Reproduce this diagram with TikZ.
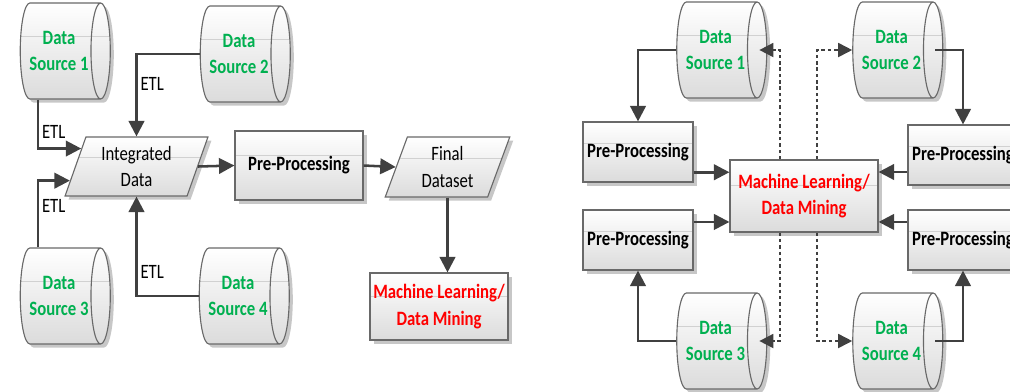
\documentclass[tikz,border=0pt]{standalone}
\usepackage{fontspec}
\setmainfont{Carlito}[FakeStretch=0.82]
\usetikzlibrary{shapes.geometric,arrows.meta,shadows,calc}
\definecolor{dsgreen}{RGB}{0,176,80}
\definecolor{mlred}{RGB}{255,0,0}
\definecolor{edgegray}{RGB}{105,105,105}
\definecolor{linegray}{RGB}{64,64,64}
\begin{document}
\begin{tikzpicture}[x=0.025cm,y=-0.025cm,
	every node/.style={font=\fontsize{14.5pt}{19pt}\selectfont, align=center, inner sep=1pt},
	shadebox/.style={draw=edgegray, line width=0.8pt, top color=white, bottom color=black!14,
		drop shadow={shadow xshift=2.5pt, shadow yshift=-2.5pt, fill=black!22, opacity=1},
		path picture={\draw[black!18, line width=0.6pt]
			($(path picture bounding box.north west)!0.35!(path picture bounding box.south west)$) --
			($(path picture bounding box.north east)!0.35!(path picture bounding box.south east)$);}},
	source/.style={shadebox, cylinder, shape aspect=0.45, minimum width=2.4cm, minimum height=2.25cm,
		text=dsgreen, font=\bfseries\fontsize{14.5pt}{19pt}\selectfont},
	dataset/.style={shadebox, trapezium, trapezium left angle=71, trapezium right angle=109,
		trapezium stretches=true},
	prebox/.style={shadebox, rectangle, font=\bfseries\fontsize{14.5pt}{19pt}\selectfont},
	minebox/.style={shadebox, rectangle, text=mlred, font=\bfseries\fontsize{14.5pt}{19pt}\selectfont},
	flow/.style={draw=linegray, line width=1.8pt, -{Triangle[length=11pt,width=11pt]}},
	dflow/.style={draw=linegray, line width=1.2pt, dash pattern=on 2.5pt off 2pt,
		-{Triangle[length=10pt,width=10pt]}},
	etl/.style={right, inner sep=2pt}]
	\useasboundingbox (0,0) rectangle (1010,391);

	\node[source] (ds1) at (59,51) {Data\\Source 1};
	\node[source] (ds2) at (239,54) {Data\\Source 2};
	\node[source] (ds3) at (59,296) {Data\\Source 3};
	\node[source] (ds4) at (238,296) {Data\\Source 4};
	\node[dataset, minimum width=3.575cm, minimum height=1.475cm] (int) at (136.5,166.5) {Integrated\\Data};
	\node[prebox, minimum width=3.2cm, minimum height=1.725cm] (pre) at (299,165.5) {Pre-Processing};
	\node[dataset, minimum width=3.125cm, minimum height=1.5cm] (fin) at (447.5,167) {Final\\Dataset};
	\node[minebox, minimum width=3.45cm, minimum height=1.675cm] (ml1) at (439,306.5) {Machine Learning/\\Data Mining};

	\draw[flow] ([xshift=-0.525cm]ds1.south) |- (int.162) node[etl, pos=0.33] (etl1) {ETL};
	\draw[flow] (ds2.west) -| (int.center |- int.north) node[etl, pos=0.68] (etl2) {ETL};
	\draw[flow] ([xshift=-0.525cm]ds3.north) |- (int.192) node[etl, pos=0.31] (etl3) {ETL};
	\draw[flow] (ds4.west) -| (int.center |- int.south) node[etl, pos=0.62] (etl4) {ETL};
	\draw[flow] (int.east) -- (pre.west);
	\draw[flow] (pre.east) -- (fin.west);
	\draw[flow] (fin.center |- fin.south) -- (fin.center |- ml1.north);

	\node[source] (rds1) at (715.5,50) {Data\\Source 1};
	\node[source] (rds2) at (891.5,50) {Data\\Source 2};
	\node[source] (rds3) at (715.5,341) {Data\\Source 3};
	\node[source] (rds4) at (891.5,341) {Data\\Source 4};
	\node[prebox, minimum width=2.75cm, minimum height=1.5cm] (pl1) at (638,152) {Pre-Processing};
	\node[prebox, minimum width=2.75cm, minimum height=1.5cm] (pl2) at (638,240) {Pre-Processing};
	\node[prebox, minimum width=2.75cm, minimum height=1.5cm] (pr1) at (963,155) {Pre-Processing};
	\node[prebox, minimum width=2.75cm, minimum height=1.5cm] (pr2) at (963,240) {Pre-Processing};
	\node[minebox, minimum width=3.7cm, minimum height=1.8cm] (ml2) at (804,196) {Machine Learning/\\Data Mining};

	\draw[flow] (rds1.west) -| (pl1.north);
	\draw[flow] ([xshift=-0.2cm]rds2.east) -| (pr1.north);
	\draw[flow] (rds3.west) -| (pl2.south);
	\draw[flow] ([xshift=-0.2cm]rds4.east) -| (pr2.south);
	\draw[flow] (pl1.-20) -- (ml2.west |- pl1.-20);
	\draw[flow] (pl2.18) -- (ml2.west |- pl2.18);
	\draw[flow] (pr1.197) -- (ml2.east |- pr1.197);
	\draw[flow] (pr2.162) -- (ml2.east |- pr2.162);
	\draw[dflow] ([xshift=-0.6cm]ml2.north) |- ([xshift=-0.2cm]rds1.east);
	\draw[dflow] ([xshift=0.325cm]ml2.north) |- (rds2.west);
	\draw[dflow] ([xshift=-0.6cm]ml2.south) |- ([xshift=-0.2cm]rds3.east);
	\draw[dflow] ([xshift=0.325cm]ml2.south) |- (rds4.west);
\end{tikzpicture}
\end{document}
